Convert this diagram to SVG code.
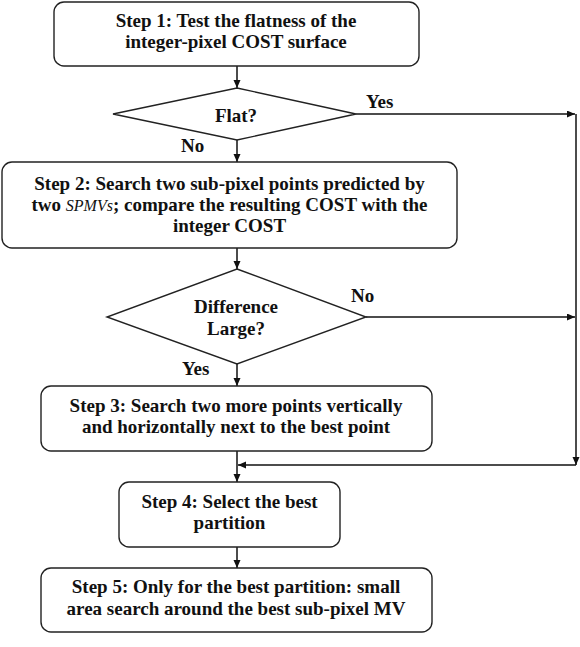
<svg xmlns="http://www.w3.org/2000/svg" width="580" height="647" viewBox="0 0 580 647">
<defs>
<style>
.box{fill:#fff;stroke:#222;stroke-width:1.4}
.dia{fill:#fff;stroke:#222;stroke-width:1.4}
.t{font-family:"Liberation Serif","Times New Roman",serif;font-weight:bold;font-size:19px;fill:#111;text-anchor:middle}
.lbl{font-family:"Liberation Serif","Times New Roman",serif;font-weight:bold;font-size:19px;fill:#111}
.c{fill:none;stroke:#111;stroke-width:1.5}
.it{font-style:italic;font-weight:normal;font-size:16px}
</style>
<marker id="ah" markerUnits="userSpaceOnUse" markerWidth="9" markerHeight="8" refX="8" refY="3.5" orient="auto">
<path d="M0,0 L8,3.5 L0,7 z" fill="#111"/>
</marker>
</defs>
<rect width="580" height="647" fill="#fff"/>
<g id="connectors">
<line class="c" x1="237" y1="66" x2="237" y2="88" marker-end="url(#ah)"/>
<line class="c" x1="237" y1="140" x2="237" y2="162" marker-end="url(#ah)"/>
<polyline class="c" points="356,114 575,114" marker-end="url(#ah)"/>
<polyline class="c" points="576,114 576,465" marker-end="url(#ah)"/>
<line class="c" x1="237" y1="248" x2="237" y2="269" marker-end="url(#ah)"/>
<polyline class="c" points="366,317 575,317" marker-end="url(#ah)"/>
<line class="c" x1="237" y1="364" x2="237" y2="386" marker-end="url(#ah)"/>
<polyline class="c" points="576,465 238,465" marker-end="url(#ah)"/>
<line class="c" x1="237" y1="451" x2="237" y2="482" marker-end="url(#ah)"/>
<line class="c" x1="237" y1="547" x2="237" y2="568" marker-end="url(#ah)"/>
<text class="lbl" x="366" y="108">Yes</text>
<text class="lbl" x="181" y="152">No</text>
<text class="lbl" x="351" y="302">No</text>
<text class="lbl" x="182" y="375">Yes</text>
</g>
<g id="step1">
<rect class="box" x="54" y="2" width="365" height="64" rx="10"/>
<text class="t" x="236" y="27">Step 1: Test the flatness of the</text>
<text class="t" x="236" y="48">integer-pixel COST surface</text>
</g>
<g id="flat">
<polygon class="dia" points="237,88 356,114 237,140 113,114"/>
<text class="t" x="236" y="122">Flat?</text>
</g>
<g id="step2">
<rect class="box" x="2" y="162" width="455" height="86" rx="10"/>
<text class="t" x="229.5" y="190">Step 2: Search two sub-pixel points predicted by</text>
<text class="t" x="229.5" y="211">two <tspan class="it">SPMVs</tspan>; compare the resulting COST with the</text>
<text class="t" x="229.5" y="232">integer COST</text>
</g>
<g id="diff">
<polygon class="dia" points="237,269 366,317 237,364 107,317"/>
<text class="t" x="236" y="313">Difference</text>
<text class="t" x="236" y="335">Large?</text>
</g>
<g id="step3">
<rect class="box" x="41" y="386" width="391" height="65" rx="10"/>
<text class="t" x="236" y="412">Step 3: Search two more points vertically</text>
<text class="t" x="236" y="433">and horizontally next to the best point</text>
</g>
<g id="step4">
<rect class="box" x="119" y="482" width="221" height="65" rx="10"/>
<text class="t" x="229.5" y="508">Step 4: Select the best</text>
<text class="t" x="229.5" y="529">partition</text>
</g>
<g id="step5">
<rect class="box" x="41" y="568" width="391" height="64" rx="10"/>
<text class="t" x="236" y="593">Step 5: Only for the best partition: small</text>
<text class="t" x="236" y="615">area search around the best sub-pixel MV</text>
</g>
</svg>
